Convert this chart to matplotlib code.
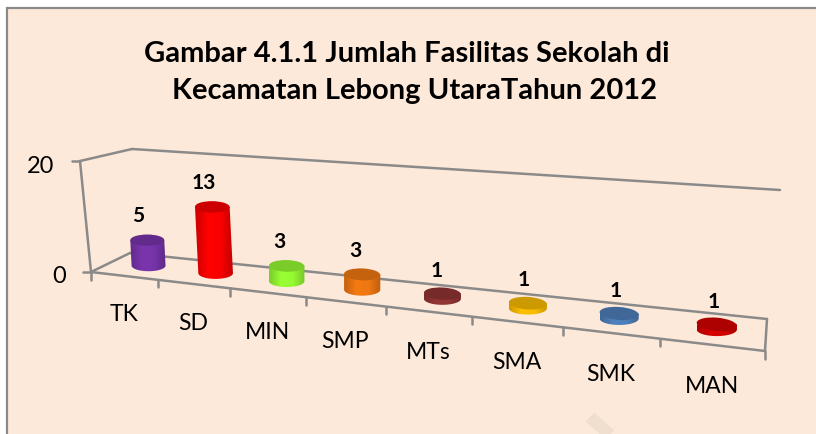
import numpy as np
import matplotlib
matplotlib.use("Agg")
import matplotlib.pyplot as plt
from matplotlib.patches import Ellipse, PathPatch, Rectangle
from matplotlib.path import Path
from matplotlib.colors import to_rgb, LinearSegmentedColormap

categories = ["TK", "SD", "MIN", "SMP", "MTs", "SMA", "SMK", "MAN"]
values = [5, 13, 3, 3, 1, 1, 1, 1]
axis_max = 20
bar_colors = ["#7a35ad", "#ff0000", "#99ff33", "#f57a12", "#953535", "#ffc000", "#4f81bd", "#d80000"]

BG = "#fde9d9"
GREY = "#8a8a8a"

# Excel 3D box, in picture pixels
F0 = np.array([91.0, 273.0])
F8 = np.array([765.0, 352.0])
B0 = np.array([130.0, 254.0])
B8 = np.array([767.0, 320.0])
TOP_FRONT = (80, 162)
TOP_BACK0 = (132, 150)
TOP_BACK8 = (780, 191)
PX_PER_UNIT = 5.1


def along(u):
    # foreshortening along the category axis
    return 65.57 * u / (1 - 0.02772 * u) / 674


def floor(u, w):
    t = along(u)
    front = F0 + (F8 - F0) * t
    back = B0 + (B8 - B0) * t
    return front + (back - front) * w


fig = plt.figure(figsize=(8.16, 4.35), dpi=100)
fig.patch.set_facecolor("white")
ax = fig.add_axes([0, 0, 1, 1])
ax.set_axis_off()

ax.add_patch(Rectangle((7, 9), 830, 440, fc=BG, ec=GREY, lw=1.6))
ax.plot([590, 610], [418, 436], color="#f0dfcf", lw=9, solid_capstyle="butt")


def seg(p, q):
    ax.plot([p[0], q[0]], [p[1], q[1]], color=GREY, lw=1.8, solid_capstyle="round")


seg(F0, F8)
seg(B0, B8)
seg(F0, B0)
seg(F8, B8)
seg(TOP_FRONT, F0)
seg(TOP_FRONT, TOP_BACK0)
seg(TOP_BACK0, TOP_BACK8)
seg((72, 162), TOP_FRONT)
seg((83, 273), F0)

for i in range(len(categories) + 1):
    p = floor(i, 0)
    seg(p, (p[0], p[1] + 7.5))

for i, (name, v, col) in enumerate(zip(categories, values, bar_colors)):
    base = floor(i + 0.5, 0.6) + np.array([2.0, 1.5 + 0.25 * i])
    spacing = (along(i + 1) - along(i)) * 674
    width = 22.5 + 0.17 * spacing
    eh = width * 0.33
    lean = -0.05 if base[0] < 240 else 0
    h = v * PX_PER_UNIT
    top = base + np.array([lean * h, -h])
    angle = 5 * i / 7

    rgb = np.array(to_rgb(col))
    cmap = LinearSegmentedColormap.from_list("c", [rgb * 0.8, rgb, rgb * 0.98, rgb * 0.78])
    th = np.linspace(0, np.pi, 40)
    lower = np.c_[base[0] + width / 2 * np.cos(th), base[1] + eh / 2 * np.sin(th)]
    pts = np.vstack([[top + [width / 2, 0]], lower, [top - [width / 2, 0]], [top + [width / 2, 0]]])
    clip = PathPatch(Path(pts), fc="none", ec="none", transform=ax.transData)
    ax.add_patch(clip)
    im = ax.imshow(np.linspace(0, 1, 64)[None, :], cmap=cmap, aspect="auto", zorder=3,
                   extent=[base[0] - width / 2 - abs(lean * h), base[0] + width / 2, base[1] + eh, top[1] - eh])
    im.set_clip_path(clip)
    ax.add_patch(Ellipse(top, width, eh, angle=angle, fc=rgb * 0.8, ec="none", zorder=4))

    ax.text(top[0] - 9 + 0.85 * i, top[1] - 25 + 0.25 * i, str(v), ha="center", va="center",
            fontsize=15, fontweight="bold", family="Lato", color="black", zorder=5)

    fr = floor(i + 0.5, 0)
    ax.text(fr[0], fr[1] + 37.5 + 0.5 * i, name, ha="center", va="center",
            fontsize=16.5, family="Lato", color="black")

ax.text(41, 167, str(axis_max), ha="center", va="center", fontsize=17, family="Lato")
ax.text(59, 277, "0", ha="center", va="center", fontsize=17, family="Lato")

ax.text(407, 54, "Gambar 4.1.1 Jumlah Fasilitas Sekolah di", ha="center", va="center",
        fontsize=21, fontweight="bold", family="Lato")
ax.text(415, 91, "Kecamatan Lebong UtaraTahun 2012", ha="center", va="center",
        fontsize=21, fontweight="bold", family="Lato")

ax.set_xlim(0, 816)
ax.set_ylim(435, 0)
fig.savefig("out.png", dpi=100)
